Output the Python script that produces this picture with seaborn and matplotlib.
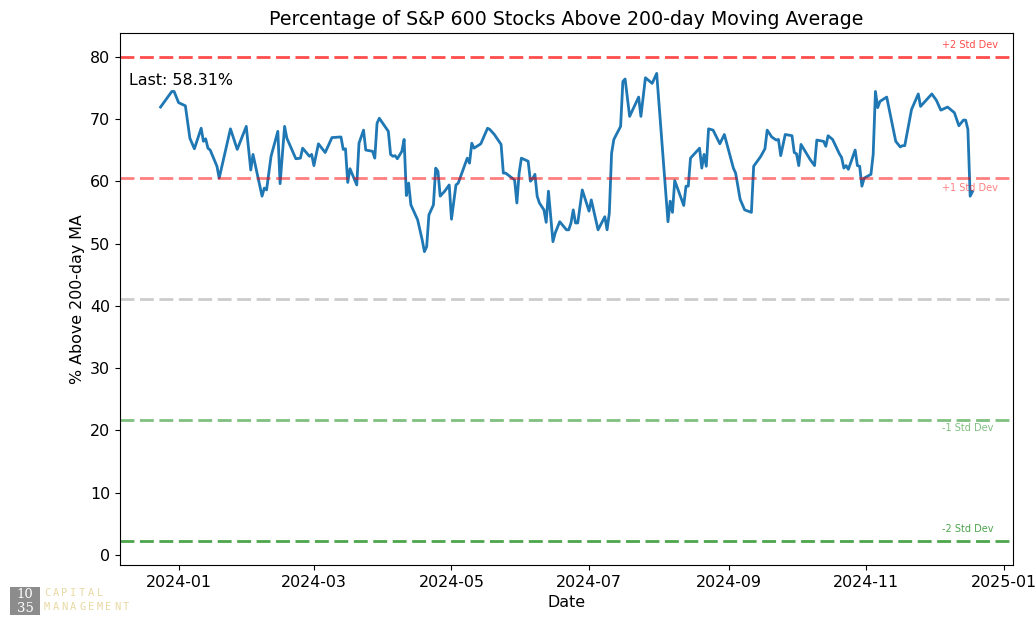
import matplotlib
matplotlib.use("Agg")
import matplotlib.pyplot as plt
import matplotlib.dates as mdates
import matplotlib.transforms as mtransforms
from matplotlib.patches import Rectangle
import pandas as pd
import seaborn as sns

# Data
dates = [
    "2023-12-24", "2023-12-29", "2023-12-30", "2024-01-01", "2024-01-04", "2024-01-06", "2024-01-08",
    "2024-01-11", "2024-01-12", "2024-01-13", "2024-01-14", "2024-01-15", "2024-01-18", "2024-01-19",
    "2024-01-24", "2024-01-27", "2024-01-31", "2024-02-02", "2024-02-03", "2024-02-07", "2024-02-08",
    "2024-02-09", "2024-02-11", "2024-02-14", "2024-02-15", "2024-02-17", "2024-02-18", "2024-02-22",
    "2024-02-24", "2024-02-25", "2024-02-28", "2024-02-29", "2024-03-01", "2024-03-03", "2024-03-06",
    "2024-03-09", "2024-03-13", "2024-03-14", "2024-03-15", "2024-03-16", "2024-03-17", "2024-03-20",
    "2024-03-21", "2024-03-23", "2024-03-24", "2024-03-27", "2024-03-28", "2024-03-29", "2024-03-30",
    "2024-04-03", "2024-04-04", "2024-04-05", "2024-04-06", "2024-04-07", "2024-04-09", "2024-04-10",
    "2024-04-11", "2024-04-12", "2024-04-13", "2024-04-16", "2024-04-18", "2024-04-19", "2024-04-20",
    "2024-04-21", "2024-04-23", "2024-04-24", "2024-04-25", "2024-04-26", "2024-04-28", "2024-04-30",
    "2024-05-01", "2024-05-03", "2024-05-04", "2024-05-08", "2024-05-09", "2024-05-10", "2024-05-11",
    "2024-05-14", "2024-05-17", "2024-05-18", "2024-05-20", "2024-05-23", "2024-05-24", "2024-05-25",
    "2024-05-29", "2024-05-30", "2024-05-31", "2024-06-01", "2024-06-04", "2024-06-05", "2024-06-06",
    "2024-06-07", "2024-06-08", "2024-06-09", "2024-06-11", "2024-06-12", "2024-06-13", "2024-06-15",
    "2024-06-16", "2024-06-18", "2024-06-21", "2024-06-22", "2024-06-23", "2024-06-24", "2024-06-25",
    "2024-06-26", "2024-06-28", "2024-07-01", "2024-07-02", "2024-07-05", "2024-07-08", "2024-07-09",
    "2024-07-10", "2024-07-11", "2024-07-12", "2024-07-15", "2024-07-16", "2024-07-17", "2024-07-19",
    "2024-07-23", "2024-07-24", "2024-07-26", "2024-07-29", "2024-07-31", "2024-08-05", "2024-08-06",
    "2024-08-07", "2024-08-08", "2024-08-12", "2024-08-13", "2024-08-14", "2024-08-15", "2024-08-19",
    "2024-08-20", "2024-08-21", "2024-08-22", "2024-08-23", "2024-08-25", "2024-08-28", "2024-08-30",
    "2024-09-03", "2024-09-04", "2024-09-06", "2024-09-08", "2024-09-11", "2024-09-12", "2024-09-15",
    "2024-09-17", "2024-09-18", "2024-09-20", "2024-09-22", "2024-09-23", "2024-09-24", "2024-09-26",
    "2024-09-29", "2024-09-30", "2024-10-01", "2024-10-02", "2024-10-03", "2024-10-07", "2024-10-09",
    "2024-10-10", "2024-10-13", "2024-10-14", "2024-10-15", "2024-10-17", "2024-10-20", "2024-10-21",
    "2024-10-22", "2024-10-23", "2024-10-24", "2024-10-27", "2024-10-28", "2024-10-29", "2024-10-30",
    "2024-10-31", "2024-11-03", "2024-11-04", "2024-11-05", "2024-11-06", "2024-11-07", "2024-11-10",
    "2024-11-14", "2024-11-16", "2024-11-17", "2024-11-18", "2024-11-21", "2024-11-24", "2024-11-25",
    "2024-11-27", "2024-11-30", "2024-12-02", "2024-12-04", "2024-12-07", "2024-12-08", "2024-12-10",
    "2024-12-12", "2024-12-14", "2024-12-15", "2024-12-16", "2024-12-17", "2024-12-18",
]
pct_above = [
    71.9, 74.4, 74.4, 72.6, 72.1, 66.9, 65.2,
    68.5, 66.4, 66.8, 65.3, 65.0, 62.4, 60.5,
    68.4, 65.1, 68.8, 61.8, 64.3, 57.6, 58.9,
    58.6, 64.0, 68.0, 59.6, 68.8, 66.9, 63.6,
    63.7, 65.3, 64.0, 64.3, 62.5, 66.0, 64.6,
    67.0, 67.1, 65.1, 65.2, 59.8, 62.0, 59.4,
    66.1, 68.2, 65.0, 64.8, 63.7, 69.3, 70.1,
    68.0, 64.3, 64.0, 64.1, 63.6, 64.8, 66.7,
    57.7, 59.7, 56.2, 53.8, 50.6, 48.7, 49.5,
    54.6, 56.2, 62.1, 61.6, 57.6, 58.4, 59.4,
    53.9, 59.4, 59.7, 63.7, 62.9, 66.1, 65.3,
    66.0, 68.5, 68.3, 67.5, 65.9, 61.3, 61.3,
    60.2, 56.5, 61.3, 63.7, 63.2, 60.0, 60.4,
    61.1, 57.6, 56.5, 55.4, 53.4, 58.4, 50.3,
    51.7, 53.5, 52.2, 52.2, 53.3, 55.4, 53.3,
    53.3, 58.6, 55.2, 57.0, 52.2, 54.3, 52.2,
    54.9, 64.5, 66.7, 68.8, 76.0, 76.4, 70.4,
    73.5, 70.4, 76.6, 75.7, 77.3, 53.5, 56.8,
    55.0, 60.1, 56.1, 59.2, 59.2, 63.7, 65.3,
    62.1, 64.3, 62.4, 68.4, 68.2, 66.0, 67.5,
    62.1, 61.3, 57.1, 55.4, 55.0, 62.4, 63.9,
    65.2, 68.2, 67.1, 66.6, 66.7, 64.1, 67.5,
    67.3, 64.6, 64.4, 62.5, 65.9, 63.5, 62.5,
    66.6, 66.4, 65.6, 67.3, 66.7, 64.4, 63.8,
    62.1, 62.5, 61.9, 65.0, 62.5, 62.4, 59.2,
    60.5, 61.1, 64.3, 74.4, 71.8, 72.8, 73.5,
    66.4, 65.5, 65.7, 65.7, 71.5, 74.0, 72.0,
    72.8, 74.0, 73.0, 71.4, 71.9, 71.6, 71.0,
    68.9, 69.8, 69.8, 68.3, 57.6, 58.31,
]

# Mean and standard deviation bands
band_names = ["+2 Std Dev", "+1 Std Dev", "Mean", "-1 Std Dev", "-2 Std Dev"]
band_levels = [79.9, 60.5, 41.1, 21.7, 2.3]
band_colors = ["red", "red", "gray", "green", "green"]
band_alphas = [0.7, 0.5, 0.4, 0.5, 0.7]
label_offsets = [1.9, -1.6, 0, -1.3, 1.9]

df = pd.DataFrame({"Date": pd.to_datetime(dates), "pct": pct_above})

fig = plt.figure(figsize=(10.36, 6.18), dpi=100)
ax = fig.add_axes([0.1158, 0.0858, 0.862, 0.8608])

sns.lineplot(data=df, x="Date", y="pct", color="#1f77b4", linewidth=2, ax=ax)

blend = mtransforms.blended_transform_factory(ax.transAxes, ax.transData)
for name, lvl, c, a, off in zip(band_names, band_levels, band_colors, band_alphas, label_offsets):
    ax.axhline(lvl, color=c, linestyle="--", linewidth=2, alpha=a, dashes=(5, 2))
    if name != "Mean":
        ax.text(0.9205, lvl + off, name, transform=blend, color=c, alpha=a,
                fontsize=7, ha="left", va="center")

ax.text(0.01, 0.91, f"Last: {pct_above[-1]:.2f}%", transform=ax.transAxes,
        fontsize=11.4, va="center", ha="left")

ax.xaxis.set_major_locator(mdates.MonthLocator(bymonth=[1, 3, 5, 7, 9, 11]))
ax.xaxis.set_major_formatter(mdates.DateFormatter("%Y-%m"))
ax.tick_params(labelsize=11.4)
ax.set_xlabel("Date", fontsize=11.4)
ax.set_ylabel("% Above 200-day MA", fontsize=11.4)
ax.set_title("Percentage of S&P 600 Stocks Above 200-day Moving Average", fontsize=13.7)

# logo bottom-left
fig.patches.append(Rectangle((10 / 1036, 3 / 618), 30 / 1036, 28 / 618,
                             transform=fig.transFigure, facecolor="#8c8c8c", edgecolor="none"))
fig.text(25 / 1036, 24 / 618, "10", color="white", fontsize=9.5, family="DejaVu Serif",
         ha="center", va="center")
fig.text(25 / 1036, 10 / 618, "35", color="white", fontsize=9.5, family="DejaVu Serif",
         ha="center", va="center")
for row, word in [(25, "CAPITAL"), (11, "MANAGEMENT")]:
    for i, ch in enumerate(word):
        fig.text((47 + i * 8.8) / 1036, row / 618, ch, color="#e8d9a4", fontsize=7.5,
                 family="DejaVu Sans Mono", ha="center", va="center")

fig.savefig("out.png", dpi=100)
